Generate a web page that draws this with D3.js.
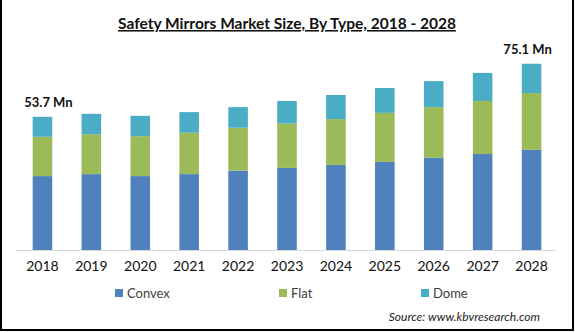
<!DOCTYPE html>
<html>
<head>
<meta charset="utf-8">
<script src="https://cdn.jsdelivr.net/npm/d3@7"></script>
<style>
  body { margin: 0; background: #fff; }
  svg { display: block; font-family: Lato, "Open Sans", sans-serif; }
</style>
</head>
<body>
<div id="chart-area"></div>
<script>
// Data (USD Mn)
const years = ["2018", "2019", "2020", "2021", "2022", "2023", "2024", "2025", "2026", "2027", "2028"];
const convex = [29.8, 30.6, 29.8, 30.6, 32.0, 33.1, 34.3, 35.5, 37.2, 38.7, 40.4];
const flat = [15.85, 16.1, 16.1, 16.7, 17.3, 17.9, 18.5, 19.8, 20.4, 21.4, 22.9];
const dome = [8.05, 8.2, 8.2, 8.3, 8.3, 9.1, 9.7, 10.0, 10.5, 11.3, 11.8];
const seriesNames = ["Convex", "Flat", "Dome"];
const seriesColors = ["#4f81bd", "#9bbb59", "#4bacc6"];
const endLabels = [{ year: "2018", text: "53.7 Mn", dx: 6 }, { year: "2028", text: "75.1 Mn", dx: -4 }];

(function () {
  const W = 575, H = 333;

  const svg = d3.select("#chart-area")
    .append("svg")
    .attr("width", W)
    .attr("height", H);

  // frame (left, right, bottom)
  svg.append("path")
    .attr("d", `M1,0 V${H - 3} H${W - 2} V0`)
    .attr("fill", "none")
    .attr("stroke", "#000")
    .attr("stroke-width", 2);

  // title
  svg.append("text")
    .attr("x", 287)
    .attr("y", 29)
    .attr("text-anchor", "middle")
    .attr("font-size", 15.5)
    .attr("font-weight", "bold")
    .attr("text-decoration", "underline")
    .attr("fill", "#111")
    .text("Safety Mirrors Market Size, By Type, 2018 - 2028");

  const rows = years.map((y, i) => ({ year: y, Convex: convex[i], Flat: flat[i], Dome: dome[i] }));
  const stacked = d3.stack().keys(seriesNames)(rows);

  const x = d3.scaleBand().domain(years).range([18, 556]).paddingInner(0.6).paddingOuter(0.3);
  const y = d3.scaleLinear().domain([0, 80]).range([250, 51.6]);
  const color = d3.scaleOrdinal().domain(seriesNames).range(seriesColors);

  svg.append("g")
    .selectAll("g")
    .data(stacked)
    .join("g")
    .attr("fill", (d) => color(d.key))
    .selectAll("rect")
    .data((d) => d)
    .join("rect")
    .attr("x", (d) => x(d.data.year))
    .attr("y", (d) => y(d[1]))
    .attr("width", x.bandwidth())
    .attr("height", (d) => y(d[0]) - y(d[1]));

  // x axis
  const xAxis = svg.append("g")
    .attr("transform", "translate(0,250.5)")
    .call(d3.axisBottom(x).tickSize(0).tickPadding(11));
  xAxis.select(".domain").attr("stroke", "#d9d9d9").attr("d", "M15,0H556");
  xAxis.selectAll("text")
    .attr("font-family", "Lato, sans-serif")
    .attr("font-size", 14)
    .attr("fill", "#111");

  // total labels
  svg.selectAll(".total")
    .data(endLabels)
    .join("text")
    .attr("class", "total")
    .attr("x", (d) => x(d.year) + x.bandwidth() / 2 + d.dx)
    .attr("y", (d) => {
      const i = years.indexOf(d.year);
      return y(convex[i] + flat[i] + dome[i]) - 10;
    })
    .attr("text-anchor", "middle")
    .attr("font-size", 13)
    .attr("font-weight", "bold")
    .attr("fill", "#111")
    .text((d) => d.text);

  // legend
  const legendX = [115, 279, 421];
  const legend = svg.append("g")
    .selectAll("g")
    .data(seriesNames)
    .join("g")
    .attr("transform", (d, i) => `translate(${legendX[i]},293)`);
  legend.append("rect")
    .attr("y", -4)
    .attr("width", 8)
    .attr("height", 8)
    .attr("fill", (d) => color(d));
  legend.append("text")
    .attr("x", 12)
    .attr("y", 4.5)
    .attr("font-size", 13)
    .attr("fill", "#404040")
    .text((d) => d);

  // source
  svg.append("text")
    .attr("x", 540)
    .attr("y", 321)
    .attr("text-anchor", "end")
    .attr("font-size", 12)
    .attr("font-style", "italic")
    .attr("fill", "#222")
    .text("Source:  www.kbvresearch.com");
})();
</script>
</body>
</html>
